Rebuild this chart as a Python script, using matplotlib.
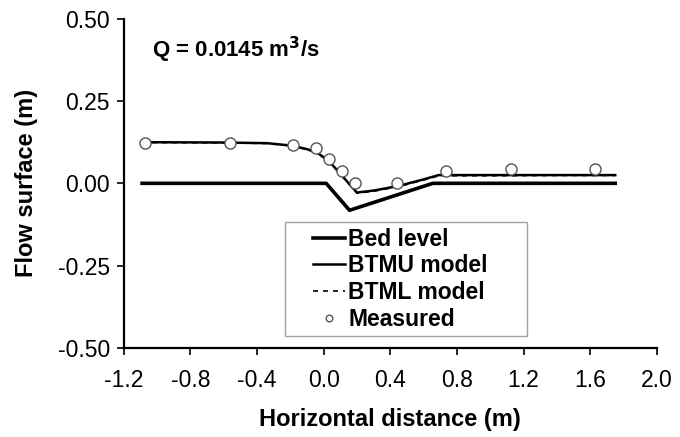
import matplotlib.pyplot as plt
from matplotlib.legend_handler import HandlerLine2D

plt.rcParams['font.family'] = ['Liberation Sans', 'DejaVu Sans']

# Bed level profile
bed_x = [-1.09, 0.015, 0.155, 0.655, 1.75]
bed_y = [0.0, 0.0, -0.082, 0.0, 0.0]

# BTMU model water surface
btmu_x = [-1.09, -0.60, -0.34, -0.20, -0.10, -0.03, 0.03, 0.09, 0.15, 0.20, 0.30, 0.45, 0.60, 0.69, 1.00, 1.40, 1.75]
btmu_y = [0.125, 0.124, 0.122, 0.115, 0.104, 0.090, 0.068, 0.035, 0.000, -0.028, -0.022, -0.008, 0.012, 0.025, 0.025, 0.025, 0.025]

# BTML model water surface
btml_x = [-1.09, -0.60, -0.34, -0.20, -0.10, -0.03, 0.03, 0.09, 0.15, 0.20, 0.30, 0.45, 0.60, 0.69, 1.00, 1.40, 1.75]
btml_y = [0.124, 0.123, 0.121, 0.114, 0.103, 0.089, 0.067, 0.034, -0.001, -0.030, -0.024, -0.010, 0.010, 0.023, 0.023, 0.024, 0.024]

# Measured points
meas_x = [-1.075, -0.565, -0.185, -0.045, 0.03, 0.11, 0.185, 0.44, 0.735, 1.125, 1.63]
meas_y = [0.124, 0.123, 0.117, 0.106, 0.073, 0.037, 0.002, 0.001, 0.038, 0.044, 0.044]

fig = plt.figure(figsize=(6.8, 4.37), dpi=100)
ax = fig.add_axes([0.182, 0.204, 0.784, 0.753])

ax.plot(bed_x, bed_y, color='black', linewidth=2.6, label='Bed level')
ax.plot(btmu_x, btmu_y, color='black', linewidth=1.8, label='BTMU model')
ax.plot(btml_x, btml_y, color='black', linewidth=1.2, linestyle=(0, (3, 3)), label='BTML model')
ax.plot(meas_x, meas_y, linestyle='none', marker='o', markersize=8,
        markerfacecolor='white', markeredgecolor='#555555', markeredgewidth=1.0,
        label='Measured')

ax.set_xlim(-1.2, 2.0)
ax.set_ylim(-0.5, 0.5)
ax.set_xticks([-1.2, -0.8, -0.4, 0.0, 0.4, 0.8, 1.2, 1.6, 2.0])
ax.set_yticks([-0.5, -0.25, 0.0, 0.25, 0.5])
ax.set_xticklabels(['-1.2', '-0.8', '-0.4', '0.0', '0.4', '0.8', '1.2', '1.6', '2.0'])
ax.set_yticklabels(['-0.50', '-0.25', '0.00', '0.25', '0.50'])
ax.tick_params(direction='out', length=5, width=1.2, labelsize=16.5, colors='black', pad=5)
ax.tick_params(axis='x', pad=10)

for side in ['top', 'right']:
    ax.spines[side].set_visible(False)
for side in ['left', 'bottom']:
    ax.spines[side].set_linewidth(1.6)

ax.set_xlabel('Horizontal distance (m)', fontsize=17, fontweight='bold', labelpad=12)
ax.set_ylabel('Flow surface (m)', fontsize=17, fontweight='bold', labelpad=14)

ax.text(0.053, 0.905, 'Q = 0.0145 m$^\\mathbf{3}$/s', transform=ax.transAxes,
        fontsize=16, fontweight='bold', va='center', ha='left')

hmap = {h: HandlerLine2D(xpad=1.0) for h in ax.get_lines()}
leg = ax.legend(loc='upper left', bbox_to_anchor=(0.302, 0.0, 0.454, 0.383), mode='expand',
                prop={'weight': 'bold', 'size': 16.5}, frameon=True, fancybox=False,
                edgecolor='#888888', handlelength=2.4, handletextpad=0.12,
                labelspacing=0.16, borderpad=0.25, borderaxespad=0, markerscale=0.6,
                handler_map=hmap)
leg.get_frame().set_linewidth(1.0)

fig.savefig('out.png', dpi=100)
